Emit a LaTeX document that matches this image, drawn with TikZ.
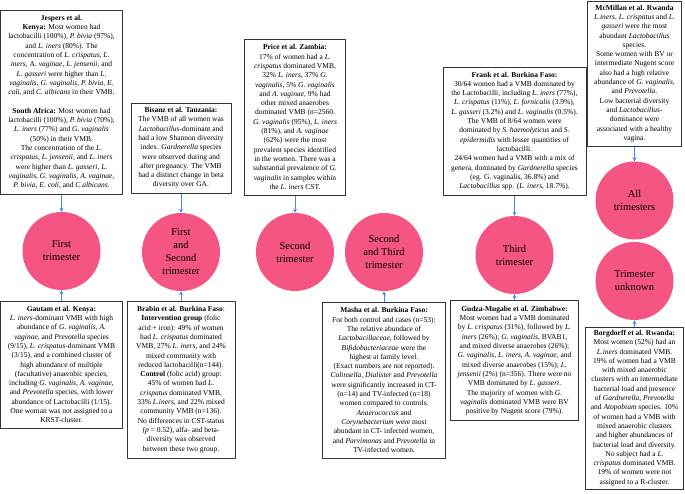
\documentclass[tikz,border=0pt]{standalone}
\usepackage{fontspec}
\setmainfont{Liberation Serif}
\definecolor{trim}{HTML}{F55582}
\definecolor{arrblue}{HTML}{4A86E8}
\begin{document}
\begin{tikzpicture}[x=1pt,y=-1pt,>=stealth,line join=round,
	box/.style={draw=black!80,line width=1pt,fill=white,align=center,inner sep=1.5pt,
		font=\fontsize{7.5}{9.3}\selectfont},
	trimester/.style={circle,fill=trim,minimum size=78pt,inner sep=0pt,align=center,
		font=\fontsize{10.5}{13}\selectfont},
	link/.style={->,arrblue,line width=0.8pt}]
	\useasboundingbox (0,0) rectangle (685,493);
	% Cac tam ca thai ky
	\node[trimester] (first) at (61.5,251) {First\\trimester};
	\node[trimester] (firstsecond) at (181,252) {First\\and\\Second\\trimester};
	\node[trimester] (second) at (295,252) {Second\\trimester};
	\node[trimester] (secondthird) at (384,252) {Second\\and Third\\trimester};
	\node[trimester] (third) at (514.5,255) {Third\\trimester};
	\node[trimester] (all) at (634.5,200.5) {All\\trimesters};
	\node[trimester] (unknown) at (634.5,281) {Trimester\\unknown};
	% Hang tren
	\node[box,minimum width=121.5pt,minimum height=184pt] (jespers) at (61.5,102) {\textbf{Jespers et al.}\\
		\textbf{Kenya:} Most women had\\
		lactobacilli (100\%), \textit{P. bivia} (97\%),\\
		and \textit{L. iners} (80\%). The\\
		concentration of \textit{L. crispatus}, \textit{L.}\\
		\textit{iners}, A. \textit{vaginae}, \textit{L. jensenii}, and\\
		\textit{L. gasseri} were higher than \textit{L.}\\
		\textit{vaginalis}, \textit{G. vaginalis}, \textit{P. bivia}, \textit{E.}\\
		\textit{coli}, and \textit{C. albicans} in their VMB.\\[9.3pt]
		\textbf{South Africa:} Most women had\\
		lactobacilli (100\%), \textit{P. bivia} (70\%),\\
		\textit{L. iners} (77\%) and \textit{G. vaginalis}\\
		(50\%) in their VMB.\\
		The concentration of the \textit{L.}\\
		\textit{crispatus}, \textit{L. jensenii}, and \textit{L. iners}\\
		were higher than \textit{L. gasseri}, \textit{L.}\\
		\textit{vaginalis}, \textit{G. vaginalis}, \textit{A. vaginae},\\
		\textit{P. bivia}, \textit{E. coli}, and \textit{C.albicans}.};
	\node[box,minimum width=100pt,minimum height=90pt] (bisanz) at (181,148) {\textbf{Bisanz et al. Tanzania:}\\
		The VMB of all women was\\
		\textit{Lactobacillus}-dominant and\\
		had a low Shannon diversity\\
		index. \textit{Gardnerella} species\\
		were observed during and\\
		after pregnancy. The VMB\\
		had a distinct change in beta\\
		diversity over GA.};
	\node[box,minimum width=101pt,minimum height=156pt] (price) at (295,117) {\textbf{Price et al. Zambia:}\\
		17\% of women had a \textit{L.}\\
		\textit{crispatus} dominated VMB,\\
		32\% \textit{L. iners}, 37\% \textit{G.}\\
		\textit{vaginalis}, 5\% \textit{G. vaginalis}\\
		and \textit{A. vaginae}, 9\% had\\
		other mixed anaerobes\\
		dominated VMB (n=2560.\\
		\textit{G. vaginalis} (95\%), \textit{L. iners}\\
		(81\%), and \textit{A. vaginae}\\
		(62\%) were the most\\
		prevalent species identified\\
		in the women. There was a\\
		substantial prevalence of \textit{G.}\\
		\textit{vaginalis} in samples within\\
		the \textit{L. iners} CST.};
	\node[box,minimum width=143pt,minimum height=128pt] (frank) at (514.5,131) {\textbf{Frank et al. Burkina Faso:}\\
		30/64 women had a VMB dominated by\\
		the Lactobacilli, including \textit{L. iners} (77\%),\\
		\textit{L. crispatus} (11\%), \textit{L. fornicalis} (3.9\%),\\
		\textit{L. gasseri} (3.2\%) and \textit{L. vaginalis} (0.5\%).\\
		The VMB of 8/64 women were\\
		dominated by \textit{S. haemolyticus} and \textit{S.}\\
		\textit{epidermidis} with lesser quantities of\\
		lactobacilli.\\
		24/64 women had a VMB with a mix of\\
		genera, dominated by \textit{Gardnerella} species\\
		(eg. G. vaginalis, 36.8\%) and\\
		\textit{Lactobacillus} spp. (\textit{L. iners}, 18.7\%).};
	\node[box,minimum width=94.5pt,minimum height=145pt] (mcmillan) at (634.5,73.5) {\textbf{McMillan et al. Rwanda}\\
		\textit{L.iners}, \textit{L. crispatus} and \textit{L.}\\
		\textit{gasseri} were the most\\
		abundant \textit{Lactobacillus}\\
		species.\\
		Some women with BV or\\
		intermediate Nugent score\\
		also had a high relative\\
		abundance of \textit{G. vaginalis},\\
		and \textit{Prevotella}.\\
		Low bacterial diversity\\
		and \textit{Lactobacillus}-\\
		dominance were\\
		associated with a healthy\\
		vagina.};
	% Hang duoi
	\node[box,minimum width=121.5pt,minimum height=127pt] (gautam) at (61.5,364.5) {\textbf{Gautam et al. Kenya:}\\
		\textit{L. iners}-dominant VMB with high\\
		abundance of \textit{G. vaginalis}, \textit{A.}\\
		\textit{vaginae}, and \textit{Prevotella} species\\
		(9/15), \textit{L. crispatus}-dominant VMB\\
		(3/15), and a combined cluster of\\
		high abundance of multiple\\
		(facultative) anaerobic species,\\
		including \textit{G. vaginalis}, \textit{A. vaginae},\\
		and \textit{Prevotella} species, with lower\\
		abundance of Lactobacilli (1/15).\\
		One woman was not assigned to a\\
		KRST-cluster.};
	\node[box,minimum width=108pt,minimum height=157pt] (brabin) at (181,379.5) {\textbf{Brabin et al. Burkina Faso}:\\
		\textbf{Intervention group} (folic\\
		acid + iron): 49\% of women\\
		had \textit{L. crispatus} dominated\\
		VMB, 27\% \textit{L. iners}, and 24\%\\
		mixed community with\\
		reduced lactobacilli(n=144).\\
		\textbf{Control} (folic acid) group:\\
		45\% of women had \textit{L.}\\
		\textit{crispatus} dominated VMB,\\
		33\% \textit{L.iners}, and 22\% mixed\\
		community VMB (n=136).\\
		No differences in CST-status\\
		(\textit{p} = 0.52), alfa- and beta-\\
		diversity was observed\\
		between these two group.};
	\node[box,minimum width=122.5pt,minimum height=156pt] (masha) at (384,380) {\textbf{Masha et al. Burkina Faso:}\\
		For both control and cases (n=53):\\
		The relative abundace of\\
		\textit{Lactobacillaceae,} followed by\\
		\textit{Bifidobacteriaceae} were the\\
		highest at family level.\\
		(Exact numbers are not reported).\\
		\textit{Colinsella}, \textit{Dialister} and \textit{Prevotella}\\
		were significantly increased in CT-\\
		(n=14) and TV-infected (n=18)\\
		women compared to controls.\\
		\textit{Anaerococcus} and\\
		\textit{Corynebacterium} were most\\
		abundant in CT- infected women,\\
		and \textit{Parvimonas} and \textit{Prevotella} in\\
		TV-infected women.};
	\node[box,minimum width=128pt,minimum height=120pt] (gudza) at (514.5,360.7) {\textbf{Gudza-Mugabe et al. Zimbabwe:}\\
		Most women had a VMB dominated\\
		by \textit{L. crispatus} (31\%), followed by \textit{L.}\\
		\textit{iners} (26\%); \textit{G. vaginalis}, BVAB1,\\
		and mixed diverse anaerobes (26\%);\\
		\textit{G. vaginalis}, \textit{L. iners}, \textit{A. vaginae}, and\\
		mixed diverse anaerobes (15\%); \textit{L.}\\
		\textit{jensenii} (2\%) (n=356). There were no\\
		VMB dominated by \textit{L. gasseri}.\\
		The majority of women with \textit{G.}\\
		\textit{vaginalis} dominated VMB were BV\\
		positive by Nugent score (79\%).};
	\node[box,minimum width=97.5pt,minimum height=162pt] (borgdorff) at (634.5,408) {\textbf{Borgdorff et al. Rwanda:}\\
		Most women (52\%) had an\\
		\textit{L.iners} dominated VMB.\\
		19\% of women had a VMB\\
		with mixed anaerobic\\
		clusters with an intermediate\\
		bacterial load and presence\\
		of \textit{Gardnerella}, \textit{Prevotella}\\
		and \textit{Atopobium} species. 10\%\\
		of women had a VMB with\\
		mixed anaerobic clusters\\
		and higher abundances of\\
		bacterial load and diversity.\\
		No subject had a \textit{L.}\\
		\textit{crispatus} dominated VMB.\\
		19\% of women were not\\
		assigned to a R-cluster.};
	% Mui ten
	\foreach \b/\c in {jespers/first,bisanz/firstsecond,price/second,frank/third,mcmillan/all,
		gautam/first,brabin/firstsecond,masha/secondthird,gudza/third,borgdorff/unknown}
		\draw[link] (\b) -- (\c);
\end{tikzpicture}
\end{document}
